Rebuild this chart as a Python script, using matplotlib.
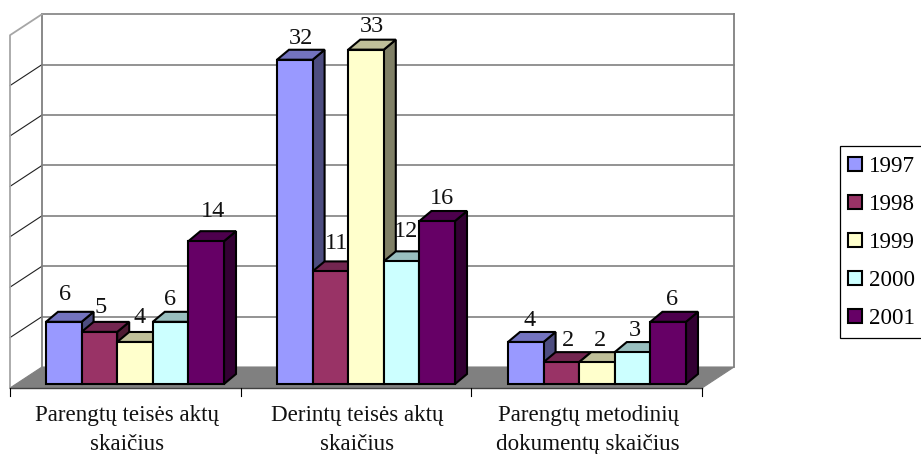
import matplotlib
matplotlib.use('Agg')
import matplotlib.pyplot as plt
from matplotlib.patches import Polygon, Rectangle, Patch

plt.rcParams['font.family'] = ['Liberation Serif', 'DejaVu Serif']

# data
categorias = ['Parengtų teisės aktų\nskaičius', 'Derintų teisės aktų\nskaičius',
              'Parengtų metodinių\ndokumentų skaičius']
anios = ['1997', '1998', '1999', '2000', '2001']
v1997 = [6, 32, 4]
v1998 = [5, 11, 2]
v1999 = [4, 33, 2]
v2000 = [6, 12, 3]
v2001 = [14, 16, 6]
series = [v1997, v1998, v1999, v2000, v2001]

# colors: front, top, side
colores = ['#9999FF', '#993366', '#FFFFCC', '#CCFFFF', '#660066']
techos = ['#7373BF', '#732650', '#BFBF99', '#99BFBF', '#4D004D']
lados = ['#4D4D80', '#4D1A33', '#808066', '#668080', '#330033']

# layout in pixels of the picture
MAX_EJE = 35
PASO_EJE = 5
PX_UNIDAD = 10.08
Y_PARED = 367       # value 0 on the back wall
X_PARED = 42
X_PARED_FIN = 734
DX_PARED, DY_PARED = -32, 21
Y_CERO_BARRA = 382.3
Y_BASE_BARRA = 384
X_BARRA = 46
ANCHO_BARRA = 35.6
PASO_GRUPO = 231
DX_BARRA, DY_BARRA = 12, -10

# small shifts of the value labels, same order as series
nudge_x = [[19, 24, 22], [19, 24, 24], [22, 24, 21], [17, 22, 20], [25, 23, 22]]
nudge_y = [[27, 21, 21], [24, 28, 22], [24, 23, 22], [22, 30, 22], [30, 23, 22]]

fig = plt.figure(figsize=(9.21, 4.54), dpi=100)
ax = fig.add_axes([0, 0, 1, 1])
ax.set_xlim(0, 921)
ax.set_ylim(454, 0)
ax.axis('off')


def y_pared(v):
    return Y_PARED - v * PX_UNIDAD


# walls and grid
gris = '#808080'
piso = [(X_PARED, Y_PARED), (X_PARED_FIN, Y_PARED),
        (X_PARED_FIN + DX_PARED, Y_PARED + DY_PARED), (X_PARED + DX_PARED, Y_PARED + DY_PARED)]
ax.add_patch(Polygon(piso, facecolor=gris, edgecolor=gris, lw=0.8, zorder=1))

for v in range(PASO_EJE, MAX_EJE, PASO_EJE):
    y = y_pared(v)
    ax.plot([X_PARED, X_PARED_FIN], [y, y], color=gris, lw=1.2, zorder=1)
    ax.plot([X_PARED, X_PARED + DX_PARED], [y, y + DY_PARED], color='#202020', lw=0.8, zorder=1)

y_tope = y_pared(MAX_EJE)
ax.plot([X_PARED, X_PARED_FIN], [y_tope, y_tope], color=gris, lw=1.2, zorder=1)
ax.plot([X_PARED, X_PARED], [y_tope, Y_PARED], color=gris, lw=1.3, zorder=1)
ax.plot([X_PARED_FIN, X_PARED_FIN], [y_tope, Y_PARED], color=gris, lw=1.3, zorder=1)
ax.plot([X_PARED, X_PARED + DX_PARED, X_PARED + DX_PARED],
        [y_tope, y_tope + DY_PARED, Y_PARED + DY_PARED], color='#A6A6A6', lw=1.3, zorder=1)

# category axis
y_eje = Y_PARED + DY_PARED
x_ini = X_PARED + DX_PARED
x_fin = X_PARED_FIN + DX_PARED
ax.plot([x_ini, x_fin], [y_eje, y_eje], color='#404040', lw=1.0, zorder=2)
paso_cat = (x_fin - x_ini) / len(categorias)
for i in range(len(categorias) + 1):
    ax.plot([x_ini + i * paso_cat] * 2, [y_eje, y_eje + 8], color='black', lw=0.8, zorder=2)

for i, cat in enumerate(categorias):
    ax.text(x_ini + (i + 0.5) * paso_cat + 1.5, 430, cat, ha='center', va='center',
            fontsize=16.6, color='#111111', linespacing=1.45)

# bars
z = 3
for g in range(len(categorias)):
    for s, valores in enumerate(series):
        x0 = X_BARRA + PASO_GRUPO * g + ANCHO_BARRA * s
        x1 = x0 + ANCHO_BARRA
        y1 = Y_CERO_BARRA - valores[g] * PX_UNIDAD
        borde = dict(edgecolor='black', lw=1.5, joinstyle='miter', zorder=z)
        ax.add_patch(Polygon([(x1, y1), (x1 + DX_BARRA, y1 + DY_BARRA),
                              (x1 + DX_BARRA, Y_BASE_BARRA + DY_BARRA), (x1, Y_BASE_BARRA)],
                             facecolor=lados[s], **borde))
        ax.add_patch(Polygon([(x0, y1), (x0 + DX_BARRA, y1 + DY_BARRA),
                              (x1 + DX_BARRA, y1 + DY_BARRA), (x1, y1)],
                             facecolor=techos[s], **borde))
        ax.add_patch(Rectangle((x0, y1), ANCHO_BARRA, Y_BASE_BARRA - y1,
                               facecolor=colores[s], **borde))
        z += 1

# value labels
for g in range(len(categorias)):
    for s, valores in enumerate(series):
        x0 = X_BARRA + PASO_GRUPO * g + ANCHO_BARRA * s
        y1 = Y_CERO_BARRA - valores[g] * PX_UNIDAD
        ax.text(x0 + nudge_x[s][g], y1 - nudge_y[s][g], str(valores[g]), ha='center',
                va='center', fontsize=17.5, color='#111111', zorder=50)

# legend, the frame runs off the right side of the picture
ax.add_patch(Rectangle((840, 146), 90, 192, facecolor='white', edgecolor='black', lw=0.9,
                       clip_on=True, zorder=40))
pañuelos = [Patch(facecolor=c, edgecolor='black', lw=1.5) for c in colores]
ley = ax.legend(pañuelos, anios, loc='upper left', bbox_to_anchor=(848, 156),
                bbox_transform=ax.transData, frameon=False, fontsize=16.6, borderpad=0,
                borderaxespad=0, handlelength=0.62, handleheight=0.55, handletextpad=0.3,
                labelspacing=0.74)
ley.set_zorder(60)

plt.savefig('out.png', dpi=100)
